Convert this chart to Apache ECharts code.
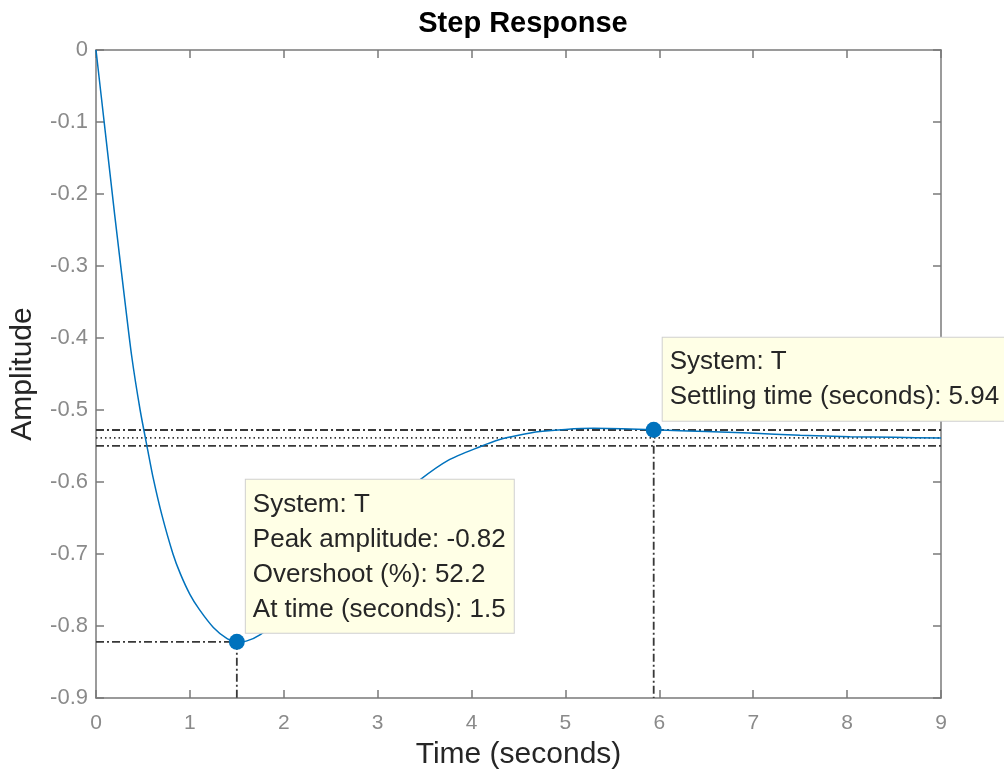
<!DOCTYPE html>
<html>
<head>
<meta charset="utf-8">
<script src="https://cdn.jsdelivr.net/npm/echarts@6/dist/echarts.min.js"></script>
<style>
html,body{margin:0;padding:0;background:#fff;}
#c{width:1004px;height:777px;}
</style>
</head>
<body>
<div id="c"></div>
<script>
// ---- data ----
const timeS = [0, 0.1, 0.2, 0.3, 0.38, 0.47, 0.55, 0.61, 0.7, 0.82, 0.9, 1.0, 1.1, 1.25, 1.4, 1.5, 1.6, 1.75, 2.0, 2.25, 2.5, 2.75, 3.0, 3.25, 3.45, 3.75, 4.09, 4.3, 4.5, 4.73, 5.0, 5.3, 5.6, 5.94, 6.5, 6.96, 7.5, 8.03, 8.5, 9.0];
const amplitude = [0, -0.115, -0.23, -0.34, -0.425, -0.5, -0.555, -0.595, -0.645, -0.7, -0.728, -0.756, -0.777, -0.802, -0.818, -0.822, -0.821, -0.812, -0.785, -0.752, -0.717, -0.682, -0.65, -0.62, -0.597, -0.57, -0.551, -0.541, -0.535, -0.53, -0.527, -0.5255, -0.526, -0.5275, -0.53, -0.532, -0.535, -0.537, -0.538, -0.539];
const peakTime = 1.5, peakAmp = -0.822;
const settleTime = 5.94, settleAmp = -0.5275;
const finalValue = -0.5388;
const bandUpper = -0.5278, bandLower = -0.5498;
const xTicks = [0, 1, 2, 3, 4, 5, 6, 7, 8, 9];
const yTicks = [-0.9, -0.8, -0.7, -0.6, -0.5, -0.4, -0.3, -0.2, -0.1, 0];
const peakTip = ['System: T', 'Peak amplitude: -0.82', 'Overshoot (%): 52.2', 'At time (seconds): 1.5'];
const settleTip = ['System: T', 'Settling time (seconds): 5.94'];

const FONT = '"Liberation Sans", Arial, Helvetica, sans-serif';
const AX = '#7a7a7a';
const LBL = '#8a8a8a';
const REF = '#383838';
const BLUE = '#0072BD';
const dashDot = [8, 3, 2, 3];

const chart = echarts.init(document.getElementById('c'), null, {renderer: 'canvas'});
const xMin = xTicks[0], xMax = xTicks[xTicks.length - 1];
const yMin = yTicks[0], yMax = yTicks[yTicks.length - 1];

function refLine(data, type, name) {
  return {
    name: name, type: 'line', data: data, symbol: 'none', silent: true, z: 1,
    lineStyle: {color: REF, width: 1.8, type: type}, animation: false
  };
}
function tipLabel(lines) {
  return {
    show: true,
    formatter: lines.join('\n'),
    position: [17, -1],
    align: 'left', verticalAlign: 'bottom',
    fontFamily: FONT, fontSize: 26, color: '#262626', lineHeight: 35,
    backgroundColor: '#ffffe6', borderColor: '#d0d0d0', borderWidth: 1,
    padding: [7, 8, 6, 7], opacity: 1
  };
}

chart.setOption({
  animation: false,
  title: {
    text: 'Step Response', left: 518, top: 4, textAlign: 'center',
    textStyle: {fontFamily: FONT, fontSize: 29, fontWeight: 'bold', color: '#000'}
  },
  grid: {left: 96, right: 63, top: 50, bottom: 79, containLabel: false},
  xAxis: [{
    type: 'value', min: xMin, max: xMax, interval: 1, position: 'bottom',
    name: 'Time (seconds)', nameLocation: 'middle', nameGap: 42,
    nameTextStyle: {fontFamily: FONT, fontSize: 30, color: '#262626'},
    axisLine: {show: true, onZero: false, lineStyle: {color: AX, width: 1.5}},
    axisTick: {show: true, inside: true, length: 8, lineStyle: {color: AX, width: 1.5}},
    axisLabel: {fontFamily: FONT, fontSize: 21, color: LBL, margin: 15},
    splitLine: {show: false}
  }, {
    type: 'value', min: xMin, max: xMax, interval: 1, position: 'top',
    axisLine: {show: true, onZero: false, lineStyle: {color: AX, width: 1.5}},
    axisTick: {show: true, inside: true, length: 8, lineStyle: {color: AX, width: 1.5}},
    axisLabel: {show: false}, splitLine: {show: false}
  }],
  yAxis: [{
    type: 'value', min: yMin, max: yMax, interval: 0.1, position: 'left',
    name: 'Amplitude', nameLocation: 'middle', nameGap: 58,
    nameTextStyle: {fontFamily: FONT, fontSize: 30, color: '#262626'},
    axisLine: {show: true, onZero: false, lineStyle: {color: AX, width: 1.5}},
    axisTick: {show: true, inside: true, length: 8, lineStyle: {color: AX, width: 1.5}},
    axisLabel: {fontFamily: FONT, fontSize: 22, color: LBL, margin: 8, padding: [10, 0, 0, 0],
      formatter: v => (Math.abs(v) < 1e-9 ? '0' : (+v.toFixed(1)).toString())},
    splitLine: {show: false}
  }, {
    type: 'value', min: yMin, max: yMax, interval: 0.1, position: 'right',
    axisLine: {show: true, onZero: false, lineStyle: {color: AX, width: 1.5}},
    axisTick: {show: true, inside: true, length: 8, lineStyle: {color: AX, width: 1.5}},
    axisLabel: {show: false}, splitLine: {show: false}
  }],
  series: [
    refLine([[xMin, bandUpper], [xMax, bandUpper]], dashDot, 'bandUpper'),
    refLine([[xMin, bandLower], [xMax, bandLower]], dashDot, 'bandLower'),
    refLine([[xMin, finalValue], [xMax, finalValue]], [1.5, 3], 'final'),
    refLine([[xMin, peakAmp], [peakTime, peakAmp]], dashDot, 'peakH'),
    refLine([[peakTime, peakAmp], [peakTime, yMin]], dashDot, 'peakV'),
    refLine([[settleTime, settleAmp], [settleTime, yMin]], dashDot, 'settleV'),
    {
      name: 'T', type: 'line', z: 3,
      data: timeS.map((t, i) => [t, amplitude[i]]),
      symbol: 'none', smooth: 0.25,
      lineStyle: {color: BLUE, width: 1.5}
    },
    {
      name: 'peak', type: 'scatter', z: 10, symbolSize: 16,
      itemStyle: {color: BLUE, opacity: 1},
      data: [{value: [peakTime, peakAmp], label: tipLabel(peakTip)}]
    },
    {
      name: 'settle', type: 'scatter', z: 10, symbolSize: 16,
      itemStyle: {color: BLUE, opacity: 1},
      data: [{value: [settleTime, settleAmp], label: tipLabel(settleTip)}]
    }
  ]
});
</script>
</body>
</html>
